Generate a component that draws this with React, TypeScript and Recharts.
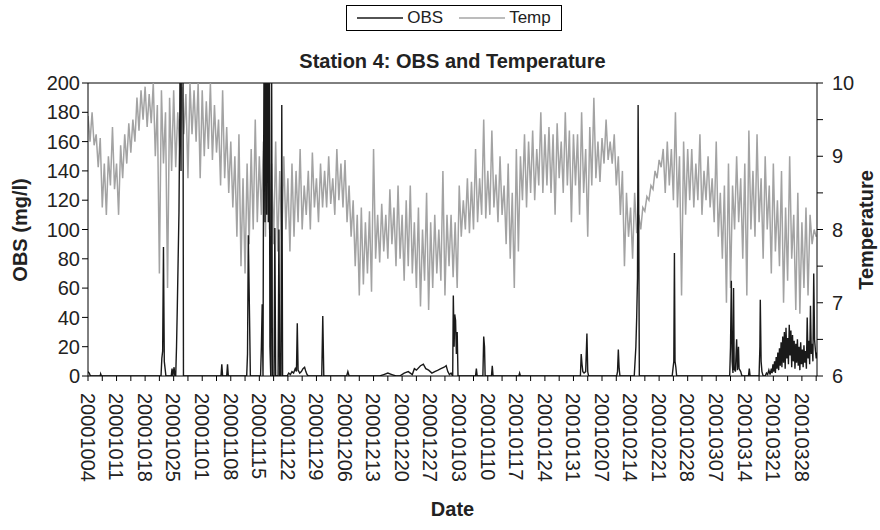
import { LineChart, Line, XAxis, YAxis, Legend, ReferenceLine } from "recharts";

const FONT = '"Liberation Sans", Arial, sans-serif';

// week labels on the date axis (one every 7 days from 2000-10-04)
const dateLabels = [
  "20001004", "20001011", "20001018", "20001025", "20001101", "20001108",
  "20001115", "20001122", "20001129", "20001206", "20001213", "20001220",
  "20001227", "20010103", "20010110", "20010117", "20010124", "20010131",
  "20010207", "20010214", "20010221", "20010228", "20010307", "20010314",
  "20010321", "20010328",
];

// temperature, two readings a day, starting 2000-10-04
const tempOct = [
  9.55, 9.2, 9.6, 9.15, 9.3, 8.85, 9.25, 8.3, 8.9, 8.2, 9.0, 8.6, 9.4, 8.55, 8.9, 8.2,
  9.15, 8.7, 9.3, 8.9, 9.45, 9.05, 9.5, 9.2, 9.8, 9.35, 9.9, 9.5, 9.95, 9.4, 9.85, 9.45,
  10.0, 9.0, 9.7, 7.4, 9.9, 8.9, 9.6, 7.2, 9.8, 8.8, 9.9, 8.85, 9.6, 9.1, 9.95, 9.3,
  9.85, 8.7, 10.0, 9.3, 9.9, 9.2, 10.0, 8.7,
];
const tempNov = [
  9.9, 9.0, 9.75, 9.1, 10.0, 8.95, 9.7, 9.05, 9.5, 8.6, 9.9, 8.7, 9.4, 8.5, 9.2, 8.3,
  9.0, 7.9, 9.3, 7.5, 8.7, 7.4, 8.9, 7.8, 9.1, 8.0, 9.5, 8.1, 9.0, 8.2, 9.2, 7.9,
  9.6, 8.0, 8.9, 7.8, 9.2, 7.7, 8.8, 7.85, 9.0, 8.0, 8.7, 7.7, 8.9, 7.9, 8.8, 8.1,
  9.1, 8.0, 8.6, 8.2, 8.8, 8.0, 9.05, 8.3, 8.7, 8.1, 8.9, 8.3,
];
const tempDec = [
  8.8, 8.3, 9.0, 8.35, 8.7, 8.2, 9.1, 8.4, 8.9, 8.3, 8.95, 8.1, 8.6, 7.9, 8.4, 7.5,
  8.2, 7.1, 8.3, 7.25, 8.1, 7.4, 8.25, 7.15, 9.1, 7.6, 8.2, 7.55, 8.35, 7.7, 8.2, 7.6,
  8.55, 7.8, 8.3, 7.5, 8.6, 7.6, 8.2, 7.3, 8.4, 7.5, 8.6, 7.4, 8.1, 7.2, 8.3, 6.95,
  8.0, 7.3, 8.5, 6.9, 8.1, 7.2, 8.2, 7.4, 8.0, 7.3, 8.8, 7.1, 8.2, 7.5,
];
const tempJan = [
  8.2, 7.35, 8.1, 7.2, 8.6, 7.9, 8.4, 8.0, 8.7, 7.95, 8.65, 8.0, 9.1, 8.1, 8.7, 8.2,
  9.5, 8.15, 8.8, 8.2, 9.35, 8.3, 8.75, 8.1, 9.0, 8.2, 8.6, 7.8, 8.9, 7.6, 8.5, 7.2,
  9.1, 7.7, 9.0, 8.4, 9.3, 8.3, 9.2, 8.5, 9.35, 8.4, 9.1, 8.6, 9.6, 8.5, 9.3, 8.6,
  9.4, 8.5, 9.3, 8.2, 9.45, 8.7, 9.2, 8.5, 9.6, 8.6, 9.35, 8.1, 9.3, 8.6,
];
const tempFeb = [
  9.3, 8.2, 9.6, 8.5, 9.1, 7.9, 9.4, 8.6, 9.8, 8.7, 9.2, 8.65, 9.25, 8.9, 9.5, 8.95,
  9.2, 8.9, 9.3, 8.6, 9.0, 8.2, 8.8, 7.5, 8.5, 7.9, 8.3, 7.6, 8.5, 7.95, 8.2, 8.0,
  8.3, 8.25, 8.45, 8.4, 8.6, 8.55, 8.8, 8.7, 8.95, 8.85, 9.1, 8.5, 9.2, 8.6, 9.1, 8.4,
  9.6, 8.3, 9.0, 7.1, 9.2, 8.2, 9.1, 8.4,
];
const tempMar = [
  9.1, 8.3, 8.9, 8.4, 9.3, 8.2, 8.8, 8.4, 9.0, 8.3, 8.7, 8.1, 9.2, 7.9, 8.5, 7.6,
  8.6, 7.0, 8.9, 7.2, 8.6, 8.0, 9.0, 8.1, 8.7, 7.6, 8.9, 7.1, 9.35, 8.0, 8.8, 7.9,
  9.3, 8.1, 8.7, 7.6, 9.0, 8.0, 8.6, 7.4, 8.9, 7.7, 8.4, 7.5, 8.8, 7.0, 8.3, 7.3,
  9.0, 7.6, 8.2, 6.9, 8.5, 6.85, 8.1, 7.2, 8.3, 7.1, 8.2, 7.8, 8.0, 7.9,
];

// OBS readings: [days since 2000-10-04, mg/l]; zero between events
const obsOct = [
  [0, 3], [0.3, 2], [0.6, 0], [3.0, 0], [3.1, 1.5], [3.3, 0],
  [17.9, 0], [18.1, 12], [18.3, 17], [18.5, 88], [18.7, 10], [18.9, 5], [19.1, 0],
  [20.4, 0], [20.6, 5], [20.8, 0], [21.1, 6], [21.3, 0],
  [21.5, 0], [21.7, 20], [21.9, 48], [22.1, 80], [22.3, 112], [22.5, 180], [22.65, 260],
  [22.8, 140], [22.95, 300], [23.1, 220], [23.25, 280], [23.4, 0],
];
const obsNov = [
  [32.6, 0], [32.8, 8], [33.0, 0], [34.0, 0], [34.2, 8], [34.4, 0],
  [38.9, 0], [39.1, 15], [39.3, 96], [39.6, 40], [39.8, 0],
  [42.3, 0], [42.5, 20], [42.7, 49], [42.9, 0], [43.0, 110], [43.2, 250], [43.4, 105],
  [43.6, 280], [43.8, 110], [44.0, 300], [44.2, 105], [44.4, 260], [44.6, 20], [44.8, 0],
  [45.0, 230], [45.2, 0], [45.6, 0], [45.8, 101], [46.0, 0], [46.6, 0], [46.8, 100],
  [47.0, 0], [47.3, 0], [47.5, 185], [47.7, 0],
  [48.8, 0], [49.2, 2], [49.6, 1], [50.0, 3], [50.4, 2], [50.8, 5], [51.1, 3], [51.3, 36],
  [51.5, 4], [51.9, 2], [52.3, 3], [52.7, 5], [53.1, 6], [53.4, 3], [53.7, 1], [54.0, 0],
  [57.3, 0], [57.55, 41], [57.8, 0],
];
const obsDec = [
  [63.4, 0], [63.7, 3], [64.0, 0], [71.5, 0], [72.5, 1], [73.5, 2], [74.5, 1], [75.5, 0],
  [76.4, 0], [77.5, 2], [78.5, 3], [79.5, 1], [80.0, 5], [80.5, 4], [81.5, 7], [82.2, 8],
  [82.8, 5], [83.5, 4], [84.3, 2], [85.0, 3], [85.8, 4], [86.5, 5], [87.3, 6], [87.8, 7],
  [88.2, 3],
];
const obsJan = [
  [88.6, 1], [89.0, 2], [89.4, 0], [89.55, 55], [89.75, 20], [89.9, 42], [90.1, 38],
  [90.3, 15], [90.5, 30], [90.7, 0], [95.0, 0], [95.2, 5], [95.4, 0],
  [96.8, 0], [97.0, 27], [97.2, 20], [97.35, 0], [98.9, 0], [99.1, 7], [99.3, 0],
  [105.6, 0], [105.8, 2], [106.0, 0],
];
const obsFeb = [
  [120.7, 0], [120.9, 15], [121.1, 8], [121.3, 3], [121.6, 2], [122.0, 3], [122.3, 29],
  [122.5, 3], [122.7, 0], [129.6, 0], [129.8, 3], [130.0, 18], [130.2, 5], [130.4, 0],
  [133.9, 0], [134.3, 20], [134.5, 40], [134.7, 67], [134.85, 185], [135.0, 110], [135.15, 0],
  [143.2, 0], [143.4, 5], [143.6, 10], [143.75, 84], [143.9, 10], [144.1, 6], [144.3, 0],
];
const obsMar = [
  [157.3, 0], [157.5, 20], [157.7, 65], [157.9, 10], [158.1, 2], [158.25, 60], [158.4, 5],
  [158.7, 3], [159.0, 25], [159.2, 4], [159.45, 20], [159.6, 5], [160.0, 3], [160.3, 0],
  [161.9, 0], [162.1, 5], [162.3, 0], [164.5, 0], [164.7, 20], [164.8, 52], [165.0, 10],
  [165.2, 3], [165.5, 0],
  [166.0, 0], [166.3, 2], [166.6, 1], [166.9, 4], [167.2, 1], [167.5, 5], [167.7, 2],
  [167.9, 8], [168.1, 3], [168.3, 10], [168.5, 2], [168.7, 13], [168.9, 5], [169.1, 16],
  [169.3, 4], [169.5, 19], [169.7, 7], [169.9, 23], [170.1, 6], [170.3, 27], [170.5, 9],
  [170.7, 30], [170.9, 5], [171.1, 33], [171.3, 12], [171.5, 26], [171.7, 8], [171.9, 35],
  [172.1, 14], [172.3, 31], [172.5, 6], [172.7, 28], [172.9, 10], [173.1, 24], [173.3, 5],
  [173.5, 22], [173.7, 9], [173.9, 25], [174.1, 7], [174.3, 20], [174.5, 4], [174.7, 23],
  [174.9, 8], [175.1, 18], [175.3, 6], [175.5, 21], [175.7, 9], [175.9, 17], [176.1, 5],
  [176.3, 40], [176.5, 12], [176.7, 24], [176.9, 8], [177.1, 48], [177.3, 15], [177.5, 22],
  [177.7, 10], [177.9, 70], [178.1, 25], [178.3, 18], [178.5, 12], [178.7, 16],
];

const tempData = [...tempOct, ...tempNov, ...tempDec, ...tempJan, ...tempFeb, ...tempMar].map(
  (t, i) => ({ day: i / 2, temp: t })
);
const obsData = [...obsOct, ...obsNov, ...obsDec, ...obsJan, ...obsFeb, ...obsMar].map(
  ([day, obs]) => ({ day, obs })
);

const xTicks = Array.from({ length: 52 }, (_, i) => i * 3.5);
const obsTicks = [0, 20, 40, 60, 80, 100, 120, 140, 160, 180, 200];
const tempTicks = [6, 6.5, 7, 7.5, 8, 8.5, 9, 9.5, 10];

const DateTick = ({ x, y, payload }: any) => {
  const v = payload.value;
  if (v % 7 !== 0) return null;
  const label = dateLabels[v / 7];
  return (
    <text
      x={x}
      y={y + 10}
      transform={`rotate(90, ${x}, ${y + 10})`}
      dy="0.36em"
      textAnchor="start"
      fontSize={20}
      fill="#222"
      fontFamily={FONT}
    >
      {label}
    </text>
  );
};

const TempTick = ({ x, y, payload }: any) => {
  if (payload.value % 1 !== 0) return null;
  return (
    <text x={x + 7} y={y} dy="0.36em" textAnchor="start" fontSize={20} fill="#222" fontFamily={FONT}>
      {payload.value}
    </text>
  );
};

const LegendBox = () => (
  <div style={{ display: "flex", justifyContent: "center" }}>
    <div
      style={{
        display: "flex",
        alignItems: "center",
        border: "1px solid #000",
        padding: "2px 10px",
        fontFamily: FONT,
        fontSize: 17,
        color: "#222",
        background: "#fff",
      }}
    >
      <svg width={46} height={10}>
        <line x1={0} y1={5} x2={46} y2={5} stroke="#1a1a1a" strokeWidth={1.5} />
      </svg>
      <span style={{ margin: "0 16px 0 4px" }}>OBS</span>
      <svg width={46} height={10}>
        <line x1={0} y1={5} x2={46} y2={5} stroke="#a6a6a6" strokeWidth={1.5} />
      </svg>
      <span style={{ marginLeft: 4 }}>Temp</span>
    </div>
  </div>
);

export default function App() {
  return (
    <div style={{ position: "absolute", left: 0, top: 0, width: 880, height: 530, background: "#fff" }}>
      <div
        style={{
          position: "absolute",
          top: 50,
          left: 88,
          width: 729,
          textAlign: "center",
          fontFamily: FONT,
          fontWeight: "bold",
          fontSize: 20,
          color: "#222",
        }}
      >
        Station 4: OBS and Temperature
      </div>
      <LineChart
        width={880}
        height={530}
        margin={{ top: 83, right: 10, bottom: 0, left: 0 }}
        style={{ fontFamily: FONT }}
      >
        <XAxis
          type="number"
          dataKey="day"
          domain={[0, 178.7]}
          ticks={xTicks}
          interval={0}
          allowDataOverflow
          height={154}
          tick={<DateTick />}
          tickSize={5}
          tickLine={{ stroke: "#000" }}
          axisLine={{ stroke: "#000" }}
          label={({ viewBox }: any) => (
            <text
              x={viewBox.x + viewBox.width / 2}
              y={516}
              textAnchor="middle"
              fontSize={20}
              fontWeight="bold"
              fill="#222"
              fontFamily={FONT}
            >
              Date
            </text>
          )}
        />
        <YAxis
          yAxisId="obs"
          domain={[0, 200]}
          ticks={obsTicks}
          allowDataOverflow
          width={88}
          tick={{ fontSize: 20, fill: "#222" }}
          tickSize={6}
          tickLine={{ stroke: "#000" }}
          axisLine={{ stroke: "#000" }}
          label={() => (
            <text
              x={20}
              y={230}
              transform="rotate(-90, 20, 230)"
              dy="0.36em"
              textAnchor="middle"
              fontSize={20}
              fontWeight="bold"
              fill="#222"
              fontFamily={FONT}
            >
              OBS (mg/l)
            </text>
          )}
        />
        <YAxis
          yAxisId="temp"
          orientation="right"
          domain={[6, 10]}
          ticks={tempTicks}
          interval={0}
          width={53}
          tick={<TempTick />}
          tickSize={6}
          tickLine={{ stroke: "#000" }}
          axisLine={{ stroke: "#000" }}
          label={() => (
            <text
              x={866}
              y={230}
              transform="rotate(-90, 866, 230)"
              dy="0.36em"
              textAnchor="middle"
              fontSize={20}
              fontWeight="bold"
              fill="#222"
              fontFamily={FONT}
            >
              Temperature
            </text>
          )}
        />
        <ReferenceLine yAxisId="obs" y={200} stroke="#000" />
        <Legend
          layout="horizontal"
          verticalAlign="middle"
          align="center"
          wrapperStyle={{ top: 5, left: 14, width: 880 }}
          content={() => <LegendBox />}
        />
        <Line
          yAxisId="temp"
          data={tempData}
          dataKey="temp"
          stroke="#a3a3a3"
          strokeWidth={1.5}
          dot={false}
          isAnimationActive={false}
        />
        <Line
          yAxisId="obs"
          data={obsData}
          dataKey="obs"
          stroke="#1a1a1a"
          strokeWidth={1.4}
          dot={false}
          isAnimationActive={false}
        />
      </LineChart>
    </div>
  );
}
